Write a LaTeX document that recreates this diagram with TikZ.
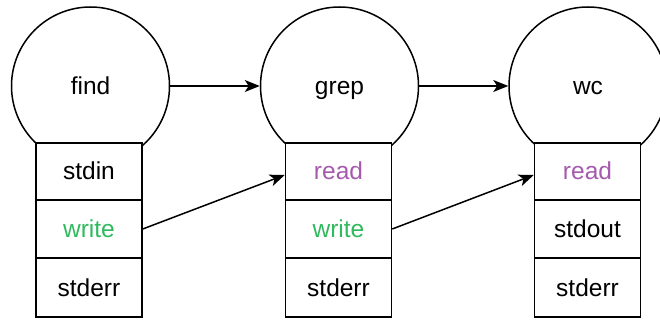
\documentclass[tikz,border=0pt]{standalone}
\usepackage{fontspec}
\setmainfont{Liberation Sans}
\usetikzlibrary{arrows.meta}
\definecolor{rdcol}{HTML}{A65AAE}
\definecolor{wrcol}{HTML}{2FBA5E}
\tikzset{
  txt/.style={font=\fontsize{24.5}{28}\selectfont, text height=18pt, text depth=1pt},
  proc/.style={draw, circle, line width=1.5pt, minimum size=158pt, inner sep=0pt, txt},
  cell/.style={draw, fill=white, rectangle, line width=1.5pt, minimum width=106pt, inner sep=0pt, txt},
  conn/.style={line width=1.5pt, -{Stealth[length=15pt,width=12pt,inset=4pt]}}
}
\begin{document}
\begin{tikzpicture}[x=1pt,y=-1pt]
\useasboundingbox (0,0) rectangle (660,320);
% circles
\node[proc] (find) at (90.5,86) {find};
\node[proc] (grep) at (339.5,86) {grep};
\node[proc] (wc) at (588,86) {wc};
% find stack
\node[cell, minimum height=57pt] (fin) at (89,171.5) {stdin};
\node[cell, minimum height=58pt, text=wrcol] (fwr) at (89,229) {write};
\node[cell, minimum height=59pt] (ferr) at (89,287.5) {stderr};
% grep stack
\node[cell, minimum height=57pt, text=rdcol] (grd) at (338.5,171.5) {read};
\node[cell, minimum height=58pt, text=wrcol] (gwr) at (338.5,229) {write};
\node[cell, minimum height=59pt] (gerr) at (338.5,287.5) {stderr};
% wc stack
\node[cell, minimum height=57pt, text=rdcol] (wrd) at (587.5,171.5) {read};
\node[cell, minimum height=58pt] (wout) at (587.5,229) {stdout};
\node[cell, minimum height=59pt] (werr) at (587.5,287.5) {stderr};
% connectors
\draw[conn] (find.east) -- (grep.west);
\draw[conn] (grep.east) -- (wc.west);
\draw[conn] (fwr.east) -- ([yshift=-3.5pt]grd.west);
\draw[conn] (gwr.east) -- ([yshift=-3.5pt]wrd.west);
\end{tikzpicture}
\end{document}
